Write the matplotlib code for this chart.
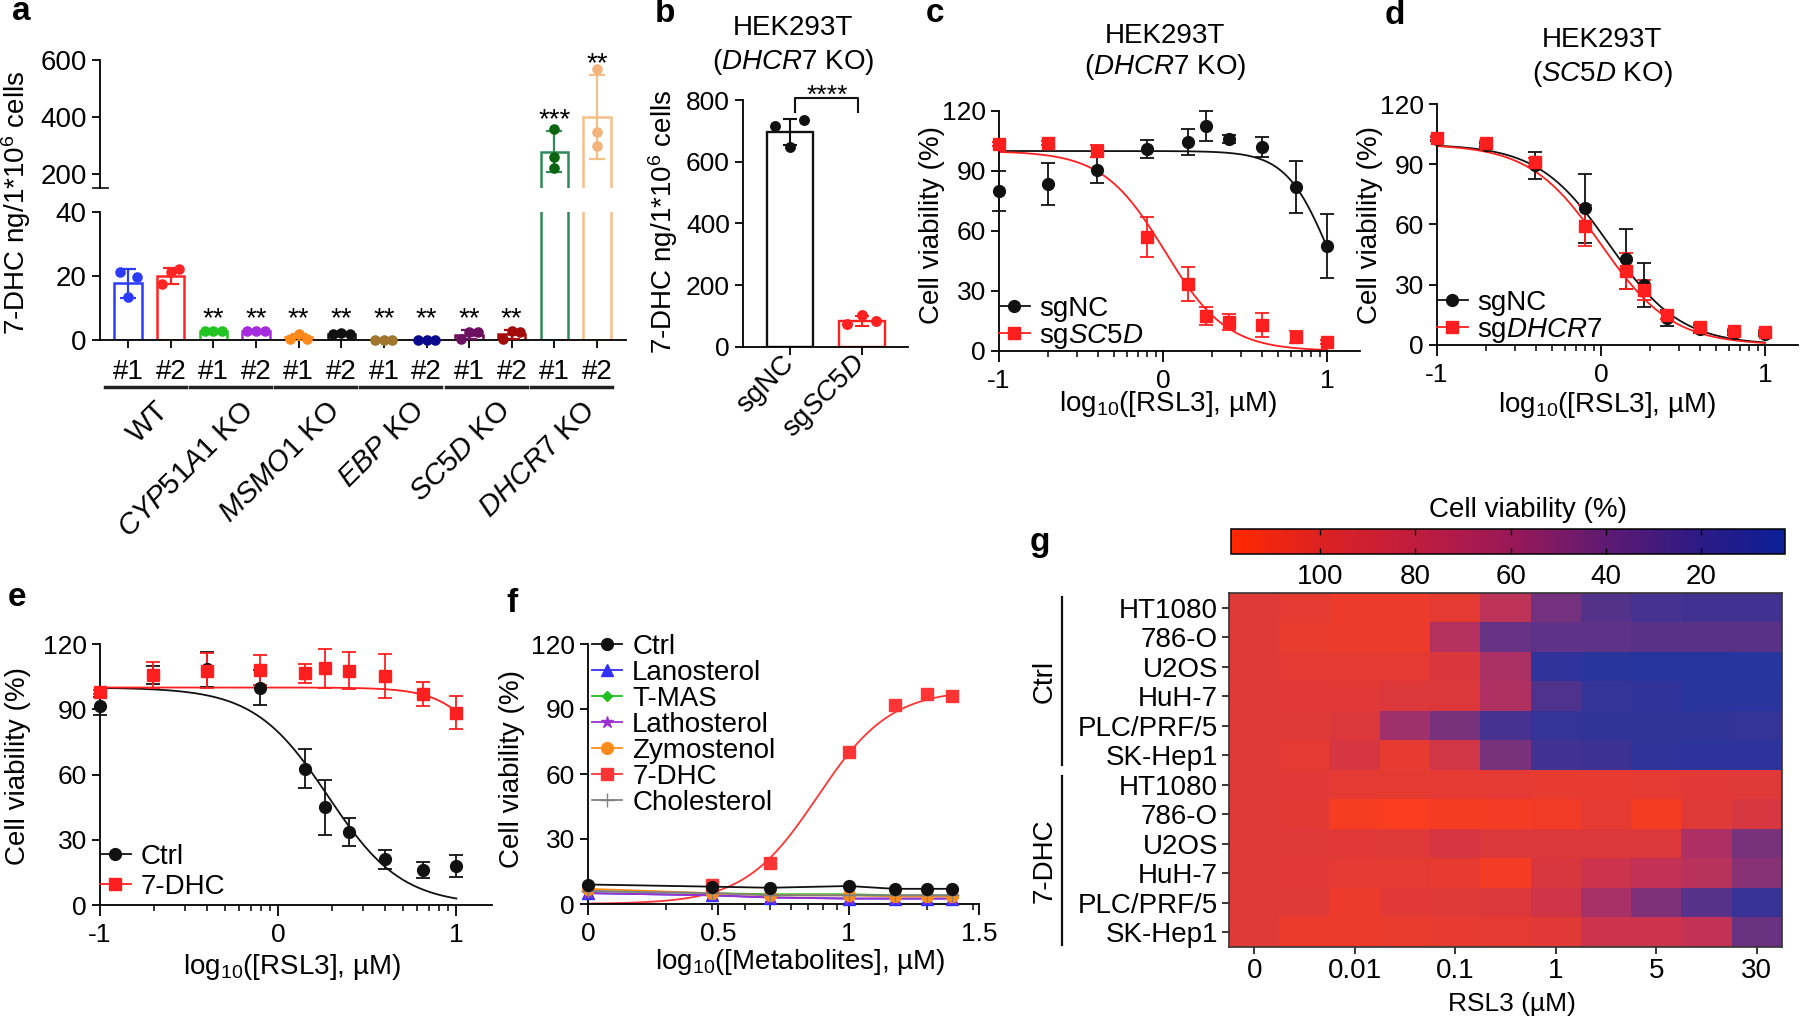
import numpy as np
import matplotlib
matplotlib.use("Agg")
import matplotlib.pyplot as plt
from matplotlib.colors import LinearSegmentedColormap, Normalize
from matplotlib.cm import ScalarMappable
from matplotlib.lines import Line2D
import matplotlib.transforms as mtrans

plt.rcParams['font.family'] = ['Liberation Sans', 'DejaVu Sans']
plt.rcParams['mathtext.fontset'] = 'custom'
plt.rcParams['mathtext.rm'] = 'Liberation Sans'
plt.rcParams['mathtext.it'] = 'Liberation Sans:italic'
plt.rcParams['mathtext.bf'] = 'Liberation Sans:bold'
plt.rcParams['axes.unicode_minus'] = False
plt.rcParams['axes.linewidth'] = 1.3

# ---------------- data ----------------
# a : 7-DHC in HEK293T KO clones
a_groups = ['WT', r'$\mathit{CYP51A1}$ KO', r'$\mathit{MSMO1}$ KO', r'$\mathit{EBP}$ KO',
            r'$\mathit{SC5D}$ KO', r'$\mathit{DHCR7}$ KO']
a_clones = ['#1', '#2'] * 6
a_mean = [17.7, 20.0, 2.8, 2.7, 0.8, 2.0, 0.1, 0.05, 1.7, 1.8, 278, 400]
a_sd = [4.5, 2.6, 0.15, 0.15, 1.0, 0.1, 0.05, 0.05, 1.3, 1.4, 72, 147]
a_points = [[21.3, 13.4, 19.6], [17.4, 21.1, 22.2], [2.8, 2.9, 2.8], [2.7, 2.8, 2.7],
            [0.3, 2.0, 0.3], [2.0, 2.1, 2.0], [0.1, 0.1, 0.1], [0.0, 0.1, 0.0],
            [0.3, 2.6, 2.5], [0.2, 2.9, 2.6], [357, 260, 219], [567, 346, 298]]
a_stars = ['', '', '**', '**', '**', '**', '**', '**', '**', '**', '***', '**']
a_colors = ['#2b3cff', '#ff2525', '#22c422', '#a52cdc', '#ff8a1a', '#111111',
            '#a0752c', '#0a0a8c', '#6c1060', '#a30a0a', '#2f8a58', '#f5bf88']
a_dot_colors = ['#2b3cff', '#ff2525', '#22c422', '#a52cdc', '#ff8a1a', '#111111',
                '#a0752c', '#0a0a8c', '#6c1060', '#a30a0a', '#0b650f', '#f2b47a']

# b : DHCR7 KO background
b_labels = ['sgNC', r'sg$\mathit{SC5D}$']
b_mean = [697, 84]
b_sd = [43, 15]
b_points = [[716, 649, 735], [74, 103, 83]]
b_colors = ['#111111', '#ff2020']

# c, d, e : RSL3 dose response
rsl3_log = [-1, -0.7, -0.4, -0.1, 0.15, 0.26, 0.4, 0.6, 0.81, 1.0]
c_nc = [80.2, 83.5, 90.5, 101, 104.7, 112.3, 106, 102.2, 81.8, 52.5]
c_nc_sd = [10, 10.3, 6.5, 4.5, 6.5, 7.5, 2, 5, 13, 16]
c_sc5d = [103.3, 104.2, 100, 57.2, 33.7, 17.5, 14.7, 13, 7.2, 4.3]
c_sc5d_sd = [1, 1, 3, 10, 8.5, 4.5, 4, 6, 3, 1]
c_fit_nc = (0, 100, 1.01, 3.3)     # bottom, top, logIC50, hill
c_fit_sc5d = (0, 100, 0.01, 2.3)

d_nc = [102.5, 99.7, 89.4, 68, 42.8, 29.8, 13.5, 7.8, 6.2, 5.3]
d_nc_sd = [1, 1, 6.5, 17, 15, 11, 4, 2, 1, 1]
d_dhcr7 = [103, 100.5, 91, 59.5, 36.7, 27.2, 15, 9, 7, 6.3]
d_dhcr7_sd = [1, 1, 2, 10, 9, 5, 2, 2, 1, 1]
d_fit_nc = (0, 100, 0.05, 2.0)
d_fit_dhcr7 = (0, 100, 0.0, 2.0)

e_ctrl = [91.5, 105.7, 108.4, 100, 62.7, 44.9, 33.4, 21, 16.1, 17.9]
e_ctrl_sd = [4, 4, 8, 8, 9, 12.5, 6.5, 4.5, 3.5, 5]
e_dhc = [98, 105.7, 107.7, 108, 106.5, 108.8, 107.6, 105.3, 97, 88.4]
e_dhc_sd = [1, 6, 8, 7, 4.5, 9, 8.5, 10, 5.5, 7.5]
e_fit_ctrl = (0, 100, 0.28, 2.1)
e_fit_dhc = (0, 100, 1.3, 3.0)

# f : metabolite rescue
met_log = [0, 0.477, 0.699, 1.0, 1.176, 1.301, 1.398]
f_names = ['Ctrl', 'Lanosterol', 'T-MAS', 'Lathosterol', 'Zymostenol', '7-DHC', 'Cholesterol']
f_values = [
    [9, 8, 7.5, 8.3, 7, 7, 7],
    [5, 4, 3, 2.5, 2.5, 2.5, 2.5],
    [6, 5, 4.5, 4.5, 4, 4, 4],
    [5, 4, 3, 2.5, 2.5, 2.5, 2.5],
    [7, 5, 4, 4, 3.5, 3.5, 3.5],
    [np.nan, 9, 19, 70.2, 92, 97, 95.8],
    [6, 5, 4, 4, 4, 4, 4],
]
f_colors = ['#111111', '#3030ff', '#1fbf1f', '#9b30d0', '#ff8c1a', '#ff3535', '#808080']
f_markers = ['o', '^', 'D', '*', 'o', 's', '+']
f_fit_dhc = (0, 99, 0.88, -3.1)

# g : heatmap (cell viability %, 11 RSL3 doses)
g_cells = ['HT1080', '786-O', 'U2OS', 'HuH-7', 'PLC/PRF/5', 'SK-Hep1']
g_groups = ['Ctrl', '7-DHC']
g_dose_labels = ['0', '0.01', '0.1', '1', '5', '30']
g_ctrl = [
    [100, 104, 108, 108, 104, 75, 42, 28, 22, 20, 20],
    [100, 106, 108, 108, 70, 36, 32, 32, 31, 31, 31],
    [100, 103, 104, 103, 96, 64, 10, 6, 4, 4, 5],
    [100, 101, 101, 97, 97, 66, 26, 12, 10, 6, 6],
    [100, 100, 98, 58, 44, 22, 12, 11, 11, 11, 12],
    [100, 104, 93, 105, 90, 44, 20, 18, 10, 8, 8],
]
g_dhc = [
    [100, 101, 104, 104, 103, 103, 105, 105, 103, 101, 100],
    [100, 102, 114, 116, 113, 112, 111, 104, 113, 100, 94],
    [100, 100, 101, 100, 93, 97, 97, 97, 97, 65, 44],
    [100, 101, 103, 104, 105, 112, 95, 85, 78, 72, 50],
    [100, 100, 108, 101, 100, 97, 88, 62, 46, 30, 14],
    [100, 108, 108, 106, 105, 104, 101, 85, 85, 78, 38],
]
cb_range = (2.4, 118.7)
cb_stops = [(2.4, '#0a1f96'), (20, '#2c1a85'), (40, '#5e1a72'), (60, '#9a1858'),
            (80, '#c01c3e'), (100, '#dc2222'), (118.7, '#ff2800')]
cb_ticks = [100, 80, 60, 40, 20]

# ---------------- figure ----------------
W, H = 1800, 1021
fig = plt.figure(figsize=(W / 100, H / 100), dpi=100)
TICK = 19
LAB = 20


def add_ax(x0, y0, x1, y1):
    return fig.add_axes([x0 / W, 1 - y1 / H, (x1 - x0) / W, (y1 - y0) / H])


def ftext(x, y, s, **kw):
    return fig.text(x / W, 1 - y / H, s, **kw)


def logistic(x, fit):
    bottom, top, logec, hill = fit
    return bottom + (top - bottom) / (1 + 10 ** ((x - logec) * hill))


def log_minor(lo, hi):
    ticks = []
    for dec in range(-2, 3):
        for k in range(2, 10):
            v = np.log10(k) + dec
            if lo < v < hi:
                ticks.append(v)
    return ticks


# panel letters
for letter, (x, y) in zip('abcdefg', [(21, 12), (665, 14), (935, 14), (1395, 16),
                                      (17, 597), (512, 603), (1040, 543)]):
    ftext(x, y, letter, fontsize=24, fontweight='bold', ha='center', va='center')

# ---- a ----
ax_top = add_ax(100, 60, 626, 188)
ax_bot = add_ax(100, 212, 626, 340)
xa = np.arange(len(a_mean))
jit = np.array([-0.2, 0.0, 0.2])
for ax, (lo, hi) in ((ax_top, (150, 600)), (ax_bot, (0, 40))):
    for i in xa:
        ax.bar(i, a_mean[i], width=0.64, facecolor='none', edgecolor=a_colors[i],
               linewidth=1.8, zorder=2)
        ax.errorbar(i, a_mean[i], yerr=a_sd[i], color=a_colors[i], capsize=6,
                    elinewidth=1.6, capthick=1.6, zorder=3)
        pts = np.array(a_points[i], dtype=float)
        dx = jit if a_mean[i] < 40 else jit * 0
        keep = (pts >= lo) & (pts <= hi)
        ax.scatter(i + dx[keep], pts[keep], s=58, color=a_dot_colors[i], zorder=4,
                   clip_on=False, linewidths=0)
    ax.set_xlim(-0.66, 11.68)
    ax.set_ylim(lo, hi)
    ax.spines[['top', 'right']].set_visible(False)
    ax.tick_params(labelsize=20, length=6, width=1.3)

ax_top.spines['bottom'].set_visible(False)
ax_top.set_xticks([])
ax_top.set_yticks([200, 400, 600])
ax_top.plot([-0.014, 0.016], [0, 0], transform=ax_top.transAxes, color='#222222',
            lw=1.3, clip_on=False)
ax_bot.set_yticks([0, 20, 40])
ax_bot.set_xticks(xa)
ax_bot.set_xticklabels(a_clones)
ax_bot.tick_params(axis='x', pad=8)

for i in xa:
    if not a_stars[i]:
        continue
    if a_mean[i] < 40:
        ax_bot.text(i, 6.6, a_stars[i], ha='center', va='center', fontsize=20)
    else:
        ax_top.text(i, a_mean[i] + a_sd[i] + 38, a_stars[i], ha='center', va='center',
                    fontsize=20, clip_on=False)

tr = mtrans.blended_transform_factory(ax_bot.transData, ax_bot.transAxes)
for g, name in enumerate(a_groups):
    ax_bot.plot([2 * g - 0.55, 2 * g + 1.35], [-0.367, -0.367], transform=tr,
                color='#222222', lw=2.5, clip_on=False)
    ax_bot.text(2 * g + 0.62, -0.44, name, transform=tr, rotation=45,
                rotation_mode='anchor', ha='right', va='top', fontsize=21)
ftext(16, 203, r'7-DHC ng/1*10$^6$ cells', rotation=90, fontsize=LAB,
      ha='center', va='center')

# ---- b ----
ax_b = add_ax(743, 100, 908, 347)
xb = np.arange(len(b_mean))
for i in xb:
    ax_b.bar(i, b_mean[i], width=0.63, facecolor='none', edgecolor=b_colors[i],
             linewidth=1.7, zorder=2)
    ax_b.errorbar(i, b_mean[i], yerr=b_sd[i], color=b_colors[i], capsize=5,
                  elinewidth=1.5, capthick=1.5, zorder=3)
    ax_b.scatter(i + jit, b_points[i], s=62, color=b_colors[i], zorder=4, linewidths=0)
ax_b.set_xlim(-0.65, 1.64)
ax_b.set_ylim(0, 800)
ax_b.set_yticks([0, 200, 400, 600, 800])
ax_b.set_xticks(xb)
ax_b.set_xticklabels(b_labels, rotation=45, rotation_mode='anchor', ha='right', va='center')
ax_b.spines[['top', 'right']].set_visible(False)
ax_b.tick_params(labelsize=TICK, length=6, width=1.3)
ax_b.tick_params(axis='x', labelsize=LAB)
top_b = max(max(p) for p in b_points)
ax_b.plot([0.07, 0.07, 0.94, 0.94], [top_b + 25, top_b + 70, top_b + 70, top_b + 25],
          color='#111111', lw=1.5, clip_on=False)
ax_b.text(0.52, top_b + 80, '****', ha='center', va='center', fontsize=TICK)
ftext(663, 222, r'7-DHC ng/1*10$^6$ cells', rotation=90, fontsize=LAB,
      ha='center', va='center')
ftext(793, 28, 'HEK293T', fontsize=LAB, ha='center', va='center')
ftext(793, 62, r'($\mathit{DHCR7}$ KO)', fontsize=LAB, ha='center', va='center')


# ---- dose response helpers ----
def dose_panel(ax, x, series, xlim, xmajor, xlabels, xminor):
    xs = np.linspace(min(x), max(x), 300)
    handles = []
    for vals, sd, fit, color, marker, ms, label in series:
        ax.errorbar(x, vals, yerr=sd, fmt=marker, color=color, ms=ms, capsize=5,
                    elinewidth=1.3, capthick=1.3, zorder=3, clip_on=False)
        ax.plot(xs, logistic(xs, fit), color=color, lw=1.3, zorder=2)
        handles.append(Line2D([], [], color=color, marker=marker, ms=ms, lw=1.3, label=label))
    ax.set_xlim(*xlim)
    ax.set_ylim(0, 120)
    ax.set_yticks([0, 30, 60, 90, 120])
    ax.set_xticks(xmajor)
    ax.set_xticklabels(xlabels)
    ax.set_xticks(xminor, minor=True)
    ax.spines[['top', 'right']].set_visible(False)
    ax.tick_params(labelsize=TICK, length=6, width=1.3)
    ax.tick_params(axis='x', length=8, pad=5)
    ax.tick_params(which='minor', axis='x', length=4.5, width=1.1)
    return handles


def small_legend(ax, handles, anchor, spacing=0.0, loc='lower left'):
    ax.legend(handles=handles, loc=loc, bbox_to_anchor=anchor, frameon=False,
              fontsize=LAB, handlelength=1.1, handletextpad=0.35, labelspacing=spacing,
              borderaxespad=0, borderpad=0)


RED = '#ff1f1f'
xlab_rsl3 = r'log$_{10}$([RSL3], µM)'

# ---- c ----
ax_c = add_ax(999, 111, 1360, 351)
h = dose_panel(ax_c, rsl3_log,
               [(c_nc, c_nc_sd, c_fit_nc, '#111111', 'o', 8.5, 'sgNC'),
                (c_sc5d, c_sc5d_sd, c_fit_sc5d, RED, 's', 8, r'sg$\mathit{SC5D}$')],
               (-1, 1.2), [-1, 0, 1], ['-1', '0', '1'], log_minor(-1, 1.2))
small_legend(ax_c, h, (0.0, 0.0))
ftext(932, 225, 'Cell viability (%)', rotation=90, fontsize=LAB, ha='center', va='center')
ftext(1168, 404, xlab_rsl3, fontsize=LAB, ha='center', va='center')
ftext(1165, 36, 'HEK293T', fontsize=LAB, ha='center', va='center')
ftext(1165, 67, r'($\mathit{DHCR7}$ KO)', fontsize=LAB, ha='center', va='center')

# ---- d ----
ax_d = add_ax(1437, 104, 1798, 345)
h = dose_panel(ax_d, rsl3_log,
               [(d_nc, d_nc_sd, d_fit_nc, '#111111', 'o', 8.5, 'sgNC'),
                (d_dhcr7, d_dhcr7_sd, d_fit_dhcr7, RED, 's', 8, r'sg$\mathit{DHCR7}$')],
               (-1, 1.2), [-1, 0, 1], ['-1', '0', '1'], log_minor(-1, 1.2))
small_legend(ax_d, h, (0.0, 0.0))
ftext(1370, 225, 'Cell viability (%)', rotation=90, fontsize=LAB, ha='center', va='center')
ftext(1607, 405, xlab_rsl3, fontsize=LAB, ha='center', va='center')
ftext(1602, 40, 'HEK293T', fontsize=LAB, ha='center', va='center')
ftext(1602, 74, r'($\mathit{SC5D}$ KO)', fontsize=LAB, ha='center', va='center')

# ---- e ----
ax_e = add_ax(100, 644, 492, 905)
h = dose_panel(ax_e, rsl3_log,
               [(e_ctrl, e_ctrl_sd, e_fit_ctrl, '#111111', 'o', 8.5, 'Ctrl'),
                (e_dhc, e_dhc_sd, e_fit_dhc, RED, 's', 8, '7-DHC')],
               (-1, 1.2), [-1, 0, 1], ['-1', '0', '1'], log_minor(-1, 1.2))
small_legend(ax_e, h, (0.0, 0.02), spacing=0.15)
ftext(18, 766, 'Cell viability (%)', rotation=90, fontsize=LAB, ha='center', va='center')
ftext(292, 967, xlab_rsl3, fontsize=LAB, ha='center', va='center')

# ---- f ----
ax_f = add_ax(588, 644, 979, 904)
xm = np.array(met_log)
handles = []
for name, vals, color, marker in zip(f_names, f_values, f_colors, f_markers):
    ms = {'o': 8.5, '^': 8, 'D': 5.5, '*': 9, 's': 8, '+': 10}[marker]
    vals = np.array(vals, dtype=float)
    if name == '7-DHC':
        xs = np.linspace(0, xm.max(), 300)
        ax_f.plot(xs, logistic(xs, f_fit_dhc), color=color, lw=1.3, zorder=2)
        ax_f.plot(xm, vals, ls='none', marker=marker, color=color, ms=ms, zorder=3,
                  clip_on=False)
    else:
        ax_f.plot(xm, vals, color=color, marker=marker, ms=ms, lw=1.3,
                  zorder=4 if name == 'Ctrl' else 3, clip_on=False)
    handles.append(Line2D([], [], color=color, marker=marker, ms=ms, lw=1.3, label=name))
ax_f.set_xlim(0, 1.5)
ax_f.set_ylim(0, 120)
ax_f.set_yticks([0, 30, 60, 90, 120])
ax_f.set_xticks([0, 0.5, 1, 1.5])
ax_f.set_xticklabels(['0', '0.5', '1', '1.5'])
ax_f.set_xticks(log_minor(0, 1.5), minor=True)
ax_f.spines[['top', 'right']].set_visible(False)
ax_f.tick_params(labelsize=TICK, length=6, width=1.3)
ax_f.tick_params(axis='x', length=8, pad=5)
ax_f.tick_params(which='minor', axis='x', length=4.5, width=1.1)
small_legend(ax_f, handles, (0.01, 1.04), spacing=0.0, loc='upper left')
ftext(512, 769, 'Cell viability (%)', rotation=90, fontsize=LAB, ha='center', va='center')
ftext(800, 962, r'log$_{10}$([Metabolites], µM)', fontsize=LAB, ha='center', va='center')

# ---- g ----
ax_g = add_ax(1229, 593, 1782, 947)
heat = np.array(g_ctrl + g_dhc, dtype=float)
vmin, vmax = cb_range
cmap = LinearSegmentedColormap.from_list(
    'viab', [((v - vmin) / (vmax - vmin), c) for v, c in cb_stops])
norm = Normalize(vmin=vmin, vmax=vmax)
ax_g.imshow(heat, cmap=cmap, norm=norm, aspect='auto', interpolation='nearest', alpha=0.9)
ax_g.set_xticks(np.arange(0, heat.shape[1], 2))
ax_g.set_xticklabels(g_dose_labels)
ax_g.set_yticks(np.arange(heat.shape[0]))
ax_g.set_yticklabels(g_cells * 2)
ax_g.tick_params(labelsize=20, length=5, width=1.1, pad=3)
for sp in ax_g.spines.values():
    sp.set_color('#333333')
    sp.set_linewidth(1.2)
trg = mtrans.blended_transform_factory(ax_g.transAxes, ax_g.transData)
for k, grp in enumerate(g_groups):
    r0, r1 = k * len(g_cells) - 0.36, (k + 1) * len(g_cells) - 0.67
    if k:
        r0, r1 = r0 + 0.06, r1 + 0.1
    ax_g.plot([-0.302, -0.302], [r0, r1], transform=trg, color='#111111', lw=1.6,
              clip_on=False)
    ax_g.text(-0.333, (r0 + r1) / 2, grp, transform=trg, rotation=90, ha='center',
              va='center', fontsize=20)
ftext(1512, 1004, 'RSL3 (µM)', fontsize=19, ha='center', va='center')

cax = add_ax(1231, 529, 1785, 554)
cb = fig.colorbar(ScalarMappable(norm=norm, cmap=cmap), cax=cax, orientation='horizontal')
cax.invert_xaxis()
cb.set_ticks(cb_ticks)
cb.outline.set_linewidth(1.1)
cax.tick_params(direction='in', top=True, bottom=True, length=4, width=1.0,
                labelsize=20, pad=7)
ftext(1528, 510, 'Cell viability (%)', fontsize=LAB, ha='center', va='center')

fig.savefig('out.png', dpi=100)
